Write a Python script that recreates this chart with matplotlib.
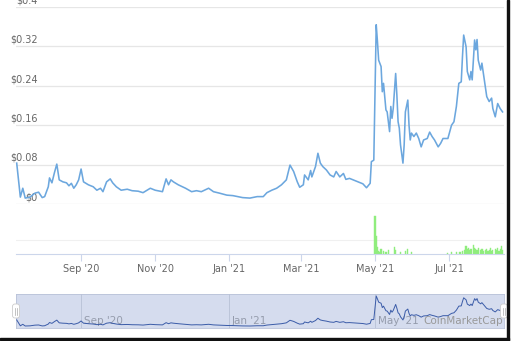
import numpy as np
import pandas as pd
import matplotlib
matplotlib.use('Agg')
import matplotlib.pyplot as plt
from matplotlib.patches import FancyBboxPatch, Rectangle

# price history, days counted from the first point
start = pd.Timestamp('2020-07-10')
days = [0, 3, 5, 7, 11, 15, 18, 21, 23, 26, 27, 29, 31, 33, 35, 38, 41, 43, 45, 47,
        49, 51, 53, 55, 59, 63, 66, 69, 71, 74, 77, 79, 82, 86, 91, 95, 100, 104, 110, 114,
        120, 123, 125, 127, 129, 133, 139, 144, 148, 152, 158, 162, 167, 173, 178, 186, 192, 198, 203, 206,
        210, 214, 218, 222, 225, 228, 231, 233, 236, 237, 240, 242, 243, 246, 248, 250, 252, 255, 258, 261,
        263, 266, 269, 271, 274, 279, 283, 285, 288, 291, 292, 294, 296, 297, 298, 300, 301, 302, 304, 305,
        307, 308, 309, 310, 312, 313, 314, 315, 316, 318, 319, 320, 322, 323, 324, 325, 327, 329, 331, 333,
        335, 338, 340, 342, 344, 347, 349, 351, 355, 358, 360, 362, 364, 366, 367, 368, 370, 371, 373, 374,
        375, 377, 378, 379, 380, 382, 383, 385, 387, 389, 391, 392, 394, 396, 398, 400]
price = [0.083, 0.014, 0.032, 0.012, 0.014, 0.022, 0.024, 0.013, 0.015, 0.035, 0.053, 0.043, 0.063, 0.081, 0.049, 0.045, 0.043, 0.037, 0.042, 0.032,
         0.039, 0.049, 0.071, 0.045, 0.039, 0.035, 0.028, 0.032, 0.025, 0.045, 0.051, 0.043, 0.035, 0.028, 0.030, 0.027, 0.026, 0.023, 0.032, 0.028,
         0.025, 0.051, 0.039, 0.049, 0.045, 0.039, 0.032, 0.025, 0.027, 0.025, 0.032, 0.025, 0.022, 0.018, 0.017, 0.013, 0.012, 0.015, 0.015, 0.023,
         0.028, 0.032, 0.039, 0.049, 0.079, 0.066, 0.045, 0.034, 0.039, 0.059, 0.049, 0.068, 0.055, 0.076, 0.103, 0.083, 0.076, 0.069, 0.059, 0.055,
         0.066, 0.055, 0.062, 0.050, 0.052, 0.047, 0.043, 0.041, 0.033, 0.042, 0.086, 0.089, 0.364, 0.330, 0.292, 0.279, 0.228, 0.245, 0.191, 0.187,
         0.147, 0.198, 0.174, 0.194, 0.265, 0.221, 0.167, 0.154, 0.120, 0.083, 0.120, 0.187, 0.211, 0.160, 0.130, 0.144, 0.137, 0.144, 0.133, 0.116,
         0.130, 0.133, 0.146, 0.137, 0.130, 0.116, 0.123, 0.133, 0.133, 0.160, 0.167, 0.198, 0.245, 0.248, 0.299, 0.343, 0.319, 0.269, 0.252, 0.269,
         0.252, 0.333, 0.313, 0.334, 0.292, 0.272, 0.286, 0.252, 0.218, 0.208, 0.215, 0.194, 0.177, 0.204, 0.194, 0.187]

# volume (arbitrary units, only the shape matters)
vol_days = [295, 296, 297, 298, 299, 300, 302, 304, 306, 311, 312, 316, 320, 322, 325,
            355, 358, 362, 365, 367, 369, 370, 371, 372, 373, 374, 376, 377, 378, 379, 380,
            382, 383, 384, 386, 387, 388, 389, 390, 391, 392, 394, 395, 396, 397, 398, 399, 400]
vol = [38, 18, 7, 3, 2, 5, 3, 2, 4, 7, 4, 2, 3, 5, 2,
       1, 2, 2, 2, 3, 4, 8, 5, 6, 4, 5, 9, 6, 5, 4, 6,
       4, 5, 3, 4, 5, 3, 4, 6, 3, 4, 5, 4, 6, 3, 5, 8, 4]

y_ticks = [0, 0.08, 0.16, 0.24, 0.32, 0.4]
y_labels = ['$0', '$0.08', '$0.16', '$0.24', '$0.32', '$0.4']
x_ticks = ['2020-09-01', '2020-11-01', '2021-01-01', '2021-03-01', '2021-05-01', '2021-07-01']
x_labels = ["Sep '20", "Nov '20", "Jan '21", "Mar '21", "May '21", "Jul '21"]
nav_ticks = ['2020-09-01', '2021-01-01', '2021-05-01']
nav_labels = ["Sep '20", "Jan '21", "May '21"]

W, H = 512, 341


def box(x0, y0, x1, y1):
    # pixel box (top-left origin) -> figure fraction rect
    return [x0 / W, 1 - y1 / H, (x1 - x0) / W, (y1 - y0) / H]


dates = start + pd.to_timedelta(days, unit='D')
vdates = start + pd.to_timedelta(vol_days, unit='D')
xlim = (start - pd.Timedelta(hours=14), start + pd.Timedelta(days=401.2))

line_col = '#6ca7de'
txt_col = '#666666'

fig = plt.figure(figsize=(W / 100, H / 100), dpi=100)
fig.patch.set_facecolor('white')

# ---- price pane
ax = fig.add_axes(box(16, 7, 504, 204))
ax.set_xlim(xlim)
ax.set_ylim(0, 0.4)
ax.axis('off')
for v, lab in zip(y_ticks, y_labels):
    ax.axhline(v, color='#e6e6e6', lw=0.9, zorder=0)
    ax.annotate(lab, xy=(0.045, v), xycoords=('axes fraction', 'data'),
                xytext=(0, 1.2), textcoords='offset points',
                ha='right', va='bottom', fontsize=7, color=txt_col, zorder=1)
ax.plot(dates, price, color=line_col, lw=1.15, zorder=3, clip_on=False)

# ---- volume pane
axv = fig.add_axes(box(16, 214, 504, 254))
axv.set_xlim(xlim)
axv.set_ylim(0, 40)
axv.bar(vdates, vol, width=1.0, color='#90ed7d', edgecolor='#90ed7d',
        linewidth=0.3, zorder=2)
axv.axhline(14, color='#f0f0f0', lw=0.8, zorder=0)
for s in ['top', 'left', 'right']:
    axv.spines[s].set_visible(False)
axv.spines['bottom'].set_color('#ccd6eb')
axv.set_yticks([])
axv.set_xticks(pd.to_datetime(x_ticks))
axv.set_xticklabels(x_labels)
axv.tick_params(axis='x', length=5, width=0.8, color='#ccd6eb',
                labelsize=7, labelcolor=txt_col, pad=2)

# ---- navigator
axn = fig.add_axes(box(16, 294, 504, 328))
axn.set_facecolor('#d5dcee')
axn.set_xlim(xlim)
axn.set_ylim(-0.0115, 0.3875)
axn.set_xticks([])
axn.set_yticks([])
for s in axn.spines.values():
    s.set_color('#b9c2d8')
    s.set_linewidth(0.6)
for d, lab in zip(pd.to_datetime(nav_ticks), nav_labels):
    axn.axvline(d, color='#b8c1d6', lw=0.6, zorder=1)
    axn.annotate(lab, xy=(d, 0.2), xycoords=('data', 'axes fraction'),
                 xytext=(2, 0), textcoords='offset points',
                 ha='left', va='center', fontsize=7.5, color='#959cac', zorder=2)
axn.plot(dates, price, color='#3a5ba8', lw=0.7, zorder=3)

fig.text(503 / W, 1 - 321 / H, 'CoinMarketCap', ha='right', va='center',
         fontsize=7.5, color='#999999')

# navigator handles
for hx in [16, 504]:
    hb = FancyBboxPatch(((hx - 3.5) / 100, (H - 318) / 100), 7 / 100, 14 / 100,
                        boxstyle='round,pad=0,rounding_size=0.025',
                        transform=fig.dpi_scale_trans, facecolor='white',
                        edgecolor='#cccccc', lw=0.6)
    fig.add_artist(hb)
    for dx in [-1, 1]:
        fig.add_artist(plt.Line2D([(hx + dx) / W] * 2, [1 - 315 / H, 1 - 308 / H],
                                  transform=fig.transFigure, color='#aaaaaa', lw=0.5))

# dark frame edges of the screenshot
fig.add_artist(Rectangle((507 / W, 0), 2 / W, 1, transform=fig.transFigure,
                         color='#111111'))
fig.add_artist(Rectangle((0, 1 / H), 509 / W, 2 / H, transform=fig.transFigure,
                         color='#111111'))

fig.savefig('out.png', dpi=100)
